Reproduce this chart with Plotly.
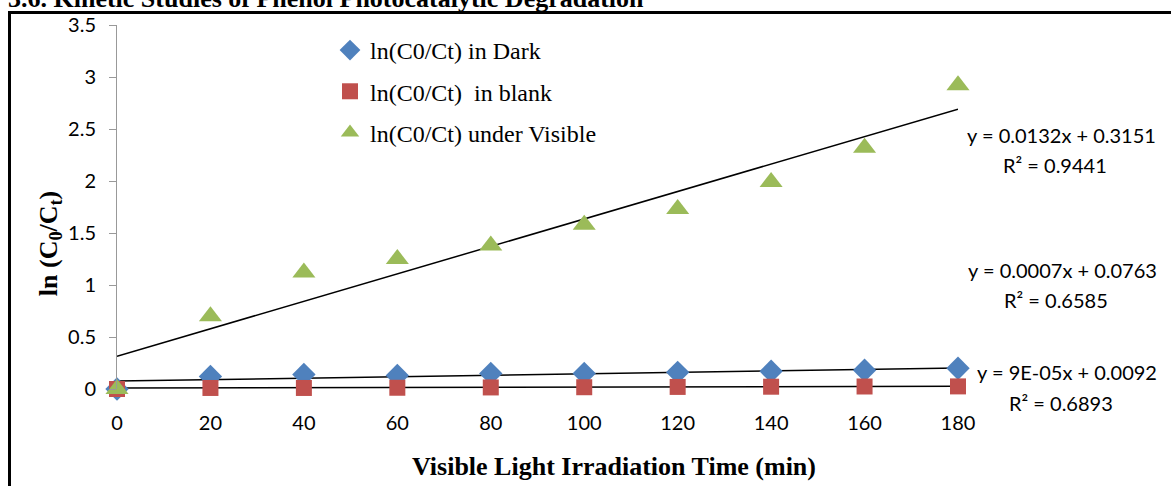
import plotly.graph_objects as go

time_min = [0, 20, 40, 60, 80, 100, 120, 140, 160, 180]
dark = [0.0, 0.12, 0.14, 0.13, 0.15, 0.15, 0.16, 0.17, 0.18, 0.20]
blank = [0.0, 0.010, 0.010, 0.012, 0.015, 0.017, 0.020, 0.022, 0.024, 0.025]
visible = [0.0, 0.70, 1.12, 1.25, 1.38, 1.58, 1.73, 1.99, 2.32, 2.92]

series_names = ["ln(C0/Ct) in Dark", "ln(C0/Ct)  in blank", "ln(C0/Ct) under Visible"]
series_colors = ["#4F81BD", "#C0504D", "#9BBB59"]
series_symbols = ["diamond", "square", "triangle-up"]
series_sizes = [18, 16, 20]

# trendline coefficients (slope, intercept) as shown in chart
fit_slopes = [0.0007, 0.00009, 0.0132]
fit_intercepts = [0.0763, 0.0092, 0.3151]
eq_lines = ["y = 0.0132x + 0.3151", "y = 0.0007x + 0.0763", "y = 9E-05x + 0.0092"]
r2_lines = ["R² = 0.9441", "R² = 0.6585", "R² = 0.6893"]

y_ticks = [0, 0.5, 1, 1.5, 2, 2.5, 3, 3.5]
y_ticktext = ["0", "0.5", "1", "1.5", "2", "2.5", "3", "3.5"]

# layout helpers (pixel positions in the 1171x486 figure)
L, R, T, B = 117, 958, 22, 389


def px_x(p):
    return (p - L) / (R - L)


def px_y(p):
    return (B - p) / (B - T)


fig = go.Figure()

# trendlines
xs = [time_min[0], time_min[-1]]
for s, b in zip(fit_slopes, fit_intercepts):
    fig.add_trace(go.Scatter(x=xs, y=[s * x + b for x in xs], mode="lines",
                             line=dict(color="black", width=1.5),
                             showlegend=False, hoverinfo="skip", cliponaxis=False))

for i, (name, vals) in enumerate(zip(series_names, [dark, blank, visible])):
    fig.add_trace(go.Scatter(
        x=time_min, y=vals, mode="markers", name=name, legendgroup=str(i),
        marker=dict(symbol=series_symbols[i], size=series_sizes[i],
                    color=series_colors[i], line=dict(width=0)),
        cliponaxis=False))

eq_px = [(1061, 133, 163), (1062, 269, 299), (1067, 372, 403)]
for (cx, ey, ry), eq, r2 in zip(eq_px, eq_lines, r2_lines):
    fig.add_annotation(x=px_x(cx), y=px_y(ey), xref="paper", yref="paper", text=eq,
                       showarrow=False, xanchor="center", yanchor="middle",
                       font=dict(family="Lato", size=20, color="black"))
    fig.add_annotation(x=px_x(cx - 6), y=px_y(ry), xref="paper", yref="paper", text=r2,
                       showarrow=False, xanchor="center", yanchor="middle",
                       font=dict(family="Lato", size=20, color="black"))

# y-axis title
fig.add_annotation(x=px_x(50), y=px_y(243), xref="paper", yref="paper",
                   text="<b>ln (C<sub>0</sub>/C<sub>t</sub>)</b>", textangle=-90,
                   showarrow=False, xanchor="center", yanchor="middle",
                   font=dict(family="Liberation Serif", size=26, color="black"))

# x-axis title
fig.add_annotation(x=px_x(614), y=px_y(467), xref="paper", yref="paper",
                   text="<b>Visible Light Irradiation Time (min)</b>",
                   showarrow=False, xanchor="center", yanchor="middle",
                   font=dict(family="Liberation Serif", size=26, color="black"))

# document heading (cut off at top)
fig.add_annotation(x=px_x(6), y=px_y(12), xref="paper", yref="paper",
                   text="<b>3.6. Kinetic Studies of Phenol Photocatalytic Degradation</b>",
                   showarrow=False, xanchor="left", yanchor="bottom",
                   font=dict(family="Liberation Serif", size=26, color="black"))

# frame
fig.add_shape(type="rect", xref="paper", yref="paper",
              x0=px_x(9.5), x1=px_x(1200), y0=px_y(520), y1=px_y(9.5),
              line=dict(color="black", width=3), fillcolor="rgba(0,0,0,0)")

fig.update_layout(
    width=1171, height=486,
    margin=dict(l=L, r=1171 - R, t=T, b=486 - B),
    paper_bgcolor="white", plot_bgcolor="white",
    font=dict(family="Lato", size=20, color="black"),
    showlegend=True,
    legend=dict(x=px_x(330), y=px_y(25), xanchor="left", yanchor="top",
                bgcolor="rgba(0,0,0,0)", tracegroupgap=7, itemsizing="trace",
                font=dict(family="Liberation Serif", size=24, color="black")),
    xaxis=dict(range=[0, 180], tickvals=time_min, ticks="", showgrid=False,
               zeroline=False, showline=False, ticklabelstandoff=20,
               tickfont=dict(family="Lato", size=20)),
    yaxis=dict(range=[0, 3.5], tickvals=y_ticks, ticktext=y_ticktext,
               ticks="outside", ticklen=7, tickcolor="#999999", showgrid=False,
               zeroline=False, showline=True, linecolor="#999999", linewidth=1,
               ticklabelstandoff=9, tickfont=dict(family="Lato", size=20)),
)

fig.write_html("out.html", config={"displayModeBar": False},
               post_script="document.body.style.margin='0';document.body.style.overflow='hidden';")
